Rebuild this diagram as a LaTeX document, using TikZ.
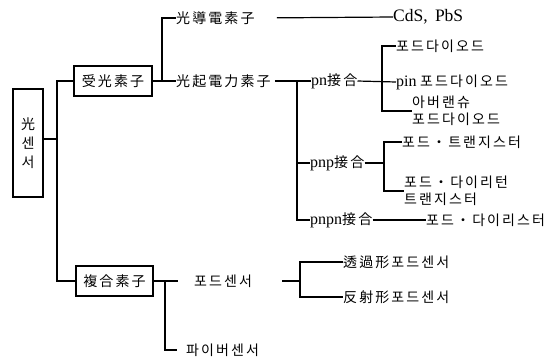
\documentclass[tikz,border=0pt]{standalone}
\usepackage{fontspec}
\setmainfont{Liberation Serif}
\newfontfamily\kr[LetterSpace=15]{Noto Sans CJK KR}
\newcommand{\K}[1]{{\kr #1}}
\newcommand{\LT}[1]{{\fontsize{16}{17}\selectfont #1}}
\begin{document}
\begin{tikzpicture}[x=1pt,y=-1pt,
  every node/.style={inner sep=0pt, font=\fontsize{14}{17}\selectfont},
  lbl/.style={anchor=west},
  boxed/.style={draw, line width=1.8pt, inner sep=3pt, align=center},
  conn/.style={line width=1.2pt}]
\useasboundingbox (0,0) rectangle (551,362);
% main boxes
\node[boxed, minimum width=30, minimum height=108] (sens) at (28,143) {\K{光}\\[2pt]\K{센}\\[2pt]\K{서}};
\node[boxed, minimum width=78, minimum height=30] (ju) at (113,81) {\K{受光素子}};
\node[boxed, minimum width=77, minimum height=30] (fuku) at (114.5,281) {\K{複合素子}};
\coordinate (t1) at (57,0);
\draw[conn] ([yshift=4]sens.east) -- ([yshift=4]sens.east -| t1);
\draw[conn] (ju.west) -| (t1 |- fuku.west) -- (fuku.west);
% upper branch
\node[lbl] (kd) at (176,18) {\K{光導電素子}};
\node[lbl] (kk) at (176,81) {\K{光起電力素子}};
\coordinate (b1) at (162,0);
\draw[conn] (ju.east) -- (kk.west);
\draw[conn] (kd.west) -| (b1 |- kk.west);
\node[lbl] (cds) at (393,17) {{\fontsize{17.5}{18}\selectfont CdS,\, PbS}};
\draw[conn, shorten <=22pt] (kd.east) -- (cds.west);
% photovoltaic trunk
\node[lbl] (pn) at (311,81) {\LT{pn}\K{接合}};
\node[lbl] (pnp) at (310,163) {\LT{pnp}\K{接合}};
\node[lbl] (pnpn) at (310,220) {\LT{pnpn}\K{接合}};
\coordinate (t2) at (297,0);
\draw[conn, shorten <=4pt] (kk.east) -- (pn.west);
\draw[conn] (t2 |- pn.west) |- (pnpn.west);
\draw[conn] (pnp.west) -- (pnp.west -| t2);
% pn junction
\node[lbl] (pd1) at (396,46) {\K{포드다이오드}};
\node[lbl] (pd2) at (396,82) {\LT{pin} \K{포드다이오드}};
\node[lbl, align=left] (ava) at (412,111) {\K{아버랜슈}\\\K{포드다이오드}};
\coordinate (b3) at (382,0);
\draw[conn] (pn.east) -- (pd2.west);
\draw[conn] (pd1.west) -| (b3 |- ava.west) -- (ava.west);
% pnp junction
\node[lbl] (pt1) at (402,142) {\K{포드・트랜지스터}};
\node[lbl, align=left] (pt2) at (404,191) {\K{포드・다이리턴}\\\K{트랜지스터}};
\coordinate (b4) at (384,0);
\draw[conn] (pnp.east) -- (pnp.east -| b4);
\draw[conn] (pt1.west) -| (b4 |- pt2.west) -- (pt2.west);
% pnpn junction
\node[lbl] (ds) at (426,220) {\K{포드・다이리스터}};
\draw[conn] (pnpn.east) -- (ds.west);
% composite branch
\node[lbl] (fs) at (194,281) {\K{포드센서}};
\node[lbl] (fb) at (186,350) {\K{파이버센서}};
\coordinate (b5) at (165,0);
\draw[conn, shorten >=16pt] (fuku.east) -- (fs.west);
\draw[conn, shorten >=9pt] (b5 |- fuku.east) |- (fb.west);
% photo sensor sub-branch
\node[lbl] (tk) at (343,262) {\K{透過形포드센서}};
\node[lbl] (hs) at (343,297) {\K{反射形포드센서}};
\coordinate (b6) at (300,0);
\draw[conn, shorten <=30pt] (fs.east) -- (fs.east -| b6);
\draw[conn] (tk.west) -| (b6 |- hs.west) -- (hs.west);
\end{tikzpicture}
\end{document}
